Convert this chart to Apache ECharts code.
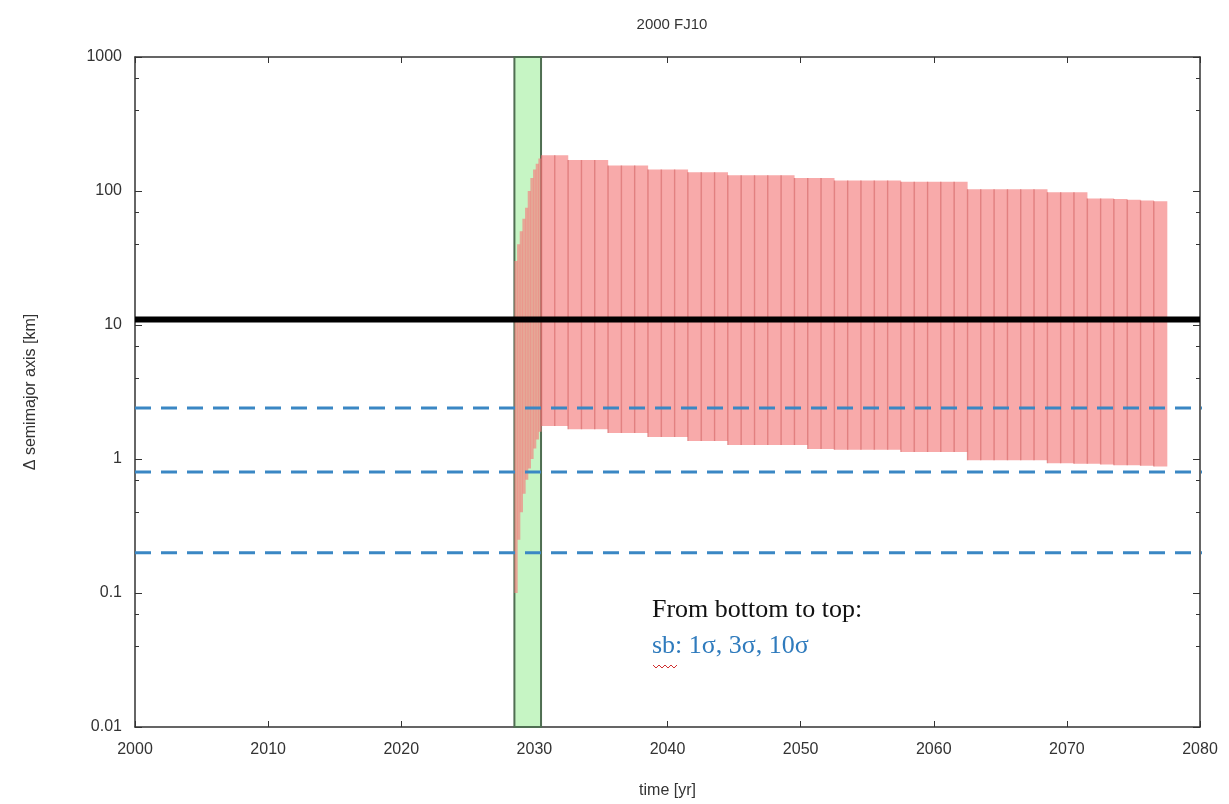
<!DOCTYPE html>
<html>
<head>
<meta charset="utf-8">
<script src="https://cdn.jsdelivr.net/npm/echarts@6/dist/echarts.min.js"></script>
<style>
  html, body { margin: 0; padding: 0; background: #fff; }
  #chart { width: 1229px; height: 804px; }
</style>
</head>
<body>
<div id="chart"></div>
<script>
// close-approach window (green band)
const bandYears = [2028.5, 2030.5];

// spread of semimajor axis during the encounter (narrow steps)
const rampStart = [2028.5, 2028.7, 2028.9, 2029.1, 2029.3, 2029.5, 2029.7, 2029.9, 2030.1, 2030.3];
const rampLow   = [0.1, 0.25, 0.4, 0.55, 0.7, 0.85, 1.0, 1.2, 1.4, 1.6];
const rampHigh  = [30, 40, 50, 62, 75, 100, 125, 145, 160, 175];

// spread after the encounter (one-year steps)
const stepStart = [2030.5, 2031.5, 2032.5, 2033.5, 2034.5, 2035.5, 2036.5, 2037.5, 2038.5, 2039.5,
                   2040.5, 2041.5, 2042.5, 2043.5, 2044.5, 2045.5, 2046.5, 2047.5, 2048.5, 2049.5,
                   2050.5, 2051.5, 2052.5, 2053.5, 2054.5, 2055.5, 2056.5, 2057.5, 2058.5, 2059.5,
                   2060.5, 2061.5, 2062.5, 2063.5, 2064.5, 2065.5, 2066.5, 2067.5, 2068.5, 2069.5,
                   2070.5, 2071.5, 2072.5, 2073.5, 2074.5, 2075.5, 2076.5];
const stepHigh  = [185, 185, 170, 170, 170, 155, 155, 155, 145, 145,
                   145, 138, 138, 138, 131, 131, 131, 131, 131, 125,
                   125, 125, 120, 120, 120, 120, 120, 117, 117, 117,
                   117, 117, 103, 103, 103, 103, 103, 103, 98, 98,
                   98, 88, 88, 87, 86, 85, 84];
const stepLow   = [1.76, 1.76, 1.67, 1.67, 1.67, 1.56, 1.56, 1.56, 1.46, 1.46,
                   1.46, 1.36, 1.36, 1.36, 1.27, 1.27, 1.27, 1.27, 1.27, 1.27,
                   1.19, 1.19, 1.17, 1.17, 1.17, 1.17, 1.17, 1.13, 1.13, 1.13,
                   1.13, 1.13, 0.98, 0.98, 0.98, 0.98, 0.98, 0.98, 0.93, 0.93,
                   0.92, 0.92, 0.91, 0.9, 0.9, 0.89, 0.88];

// horizontal reference levels
const blackLevel = 11;
const sigmaLevels = [0.2, 0.8, 2.4];   // sb: 1σ, 3σ, 10σ

const xTicks = [2000, 2080];
const yRange = [0.01, 1000];

const chart = echarts.init(document.getElementById('chart'));

const rampData = rampStart.map((t, i) => [t, t + 0.2, rampLow[i], rampHigh[i]]);
const stepData = stepStart.map((t, i) => [t, t + 1, stepLow[i], stepHigh[i]]);

// one vertical range bar: light red fill, darker line on its left edge
function rangeBar(edge) {
  return function (params, api) {
    const p0 = api.coord([api.value(0), api.value(3)]);
    const p1 = api.coord([api.value(1), api.value(2)]);
    const children = [{
      type: 'rect',
      shape: { x: p0[0], y: p0[1], width: p1[0] - p0[0] + 0.6, height: p1[1] - p0[1] },
      style: { fill: 'rgba(244,126,126,0.66)' }
    }];
    if (edge) {
      children.push({
        type: 'line',
        shape: { x1: p0[0] + 0.5, y1: p0[1], x2: p0[0] + 0.5, y2: p1[1] },
        style: { stroke: 'rgba(190,80,80,0.35)', lineWidth: 1.5 }
      });
    }
    return { type: 'group', children: children };
  };
}

const labelFont = { fontFamily: 'Liberation Sans', fontSize: 16, color: '#333' };
const plainNum = v => String(v);

const sigmaSeries = sigmaLevels.map(v => ({
  type: 'line',
  clip: false,
  symbol: 'none',
  silent: true,
  z: 5,
  data: [[xTicks[0], v], [2081.2, v]],
  lineStyle: { color: '#3a87c4', width: 3, type: [16, 10] }
}));

chart.setOption({
  animation: false,
  title: {
    text: '2000 FJ10',
    left: 667,
    top: 12,
    textAlign: 'center',
    textStyle: { fontFamily: 'Liberation Sans', fontSize: 15, fontWeight: 'normal', color: '#333' }
  },
  grid: { left: 135, right: 29, top: 57, bottom: 74 },
  xAxis: [{
    type: 'value',
    min: xTicks[0], max: xTicks[1], interval: 10,
    name: 'time [yr]', nameLocation: 'middle', nameGap: 56,
    nameTextStyle: labelFont,
    axisLine: { show: true, lineStyle: { color: '#333', width: 1.5 } },
    axisTick: { inside: true, length: 6, lineStyle: { color: '#333' } },
    axisLabel: Object.assign({ margin: 15, formatter: plainNum }, labelFont),
    splitLine: { show: false }
  }, {
    type: 'value', position: 'top',
    min: xTicks[0], max: xTicks[1], interval: 10,
    axisLine: { show: true, lineStyle: { color: '#333', width: 1.5 } },
    axisTick: { inside: true, length: 6, lineStyle: { color: '#333' } },
    axisLabel: { show: false },
    splitLine: { show: false }
  }],
  yAxis: [{
    type: 'log', logBase: 10,
    min: yRange[0], max: yRange[1],
    name: 'Δ semimajor axis [km]', nameLocation: 'middle', nameGap: 96, nameRotate: 90,
    nameTextStyle: labelFont,
    axisLine: { show: true, lineStyle: { color: '#333', width: 1.5 } },
    axisTick: { inside: true, length: 7, lineStyle: { color: '#333' } },
    minorTick: { show: true, splitNumber: 3, length: 4, lineStyle: { color: '#333' } },
    axisLabel: Object.assign({ margin: 13, formatter: plainNum }, labelFont),
    splitLine: { show: false }
  }, {
    type: 'log', logBase: 10, position: 'right',
    min: yRange[0], max: yRange[1],
    axisLine: { show: true, lineStyle: { color: '#333', width: 1.5 } },
    axisTick: { inside: true, length: 7, lineStyle: { color: '#333' } },
    minorTick: { show: true, splitNumber: 3, length: 4, lineStyle: { color: '#333' } },
    axisLabel: { show: false },
    splitLine: { show: false }
  }],
  series: [
    {
      type: 'line',
      data: [],
      z: 1,
      markArea: {
        silent: true,
        itemStyle: { color: '#c6f5c4', borderColor: '#4f6e52', borderWidth: 2 },
        data: [[{ xAxis: bandYears[0] }, { xAxis: bandYears[1] }]]
      }
    },
    { type: 'custom', renderItem: rangeBar(false), data: rampData, z: 3 },
    { type: 'custom', renderItem: rangeBar(true), data: stepData, z: 3 },
    {
      type: 'line',
      symbol: 'none',
      silent: true,
      z: 6,
      data: [[xTicks[0], blackLevel], [xTicks[1], blackLevel]],
      lineStyle: { color: '#000', width: 6 }
    }
  ].concat(sigmaSeries),
  graphic: [
    {
      type: 'text', left: 652, top: 597, z: 10,
      style: { text: 'From bottom to top:', font: '26px "Liberation Serif"', fill: '#111' }
    },
    {
      type: 'text', left: 652, top: 633, z: 10,
      style: { text: 'sb: 1σ, 3σ, 10σ', font: '26px "Liberation Serif"', fill: '#2f7bbd' }
    },
    {
      type: 'polyline', z: 10,
      shape: { points: [[653, 665], [656, 668], [659, 665], [662, 668], [665, 665], [668, 668], [671, 665], [674, 668], [677, 665]] },
      style: { stroke: '#d03030', lineWidth: 1, fill: null }
    }
  ]
});
</script>
</body>
</html>
